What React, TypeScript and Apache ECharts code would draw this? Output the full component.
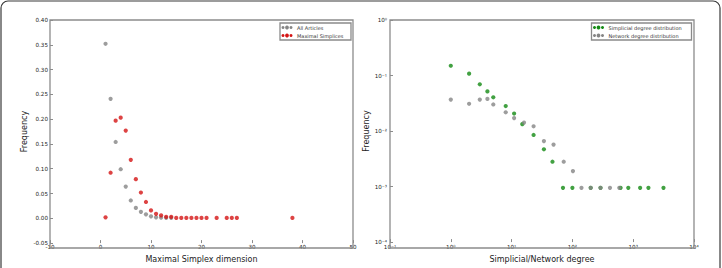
import React, { useEffect, useRef } from "react";
import * as echarts from "echarts";

// Left panel: maximal simplex dimension distribution
const articleDims = [1, 2, 3, 4, 5, 6, 7, 8, 9, 10, 11, 12, 13, 14];
const articleFreq = [0.352, 0.241, 0.154, 0.099, 0.064, 0.036, 0.021, 0.013, 0.008, 0.004, 0.002, 0.0015, 0.001, 0.001];

const simplexDims = [1, 2, 3, 4, 5, 6, 7, 8, 9, 10, 11, 12, 13, 14, 15, 16, 17, 18, 19, 20, 21, 23, 25, 26, 27, 38];
const simplexFreq = [0.002, 0.092, 0.197, 0.203, 0.177, 0.118, 0.079, 0.052, 0.033, 0.016, 0.009, 0.006, 0.003, 0.003,
  0.0008, 0.0008, 0.0008, 0.0008, 0.0008, 0.0008, 0.0008, 0.0008, 0.0008, 0.0008, 0.0008, 0.0008];

// Right panel: degree distributions (log-log)
const simplicialDegree = [1, 2, 3, 4, 5, 8, 11, 15, 23, 34, 47, 70, 100, 200, 290, 620, 830, 1300, 1780, 3150];
const simplicialFreq = [0.15, 0.108, 0.0695, 0.0517, 0.0406, 0.0282, 0.0207, 0.0133, 0.0085, 0.0047, 0.0028,
  0.00095, 0.00095, 0.00095, 0.00095, 0.00095, 0.00095, 0.00095, 0.00095, 0.00095];

const networkDegree = [1, 2, 3, 4, 5, 8, 11, 16, 23, 34, 49, 72, 102, 141, 200, 290, 415, 590];
const networkFreq = [0.0369, 0.031, 0.0369, 0.0379, 0.0301, 0.0218, 0.0171, 0.0142, 0.0122, 0.0066, 0.0057, 0.0028,
  0.0019, 0.00095, 0.00095, 0.00095, 0.00095, 0.00095];

const leftYTicks = ["-0.05", "0.00", "0.05", "0.10", "0.15", "0.20", "0.25", "0.30", "0.35", "0.40"];
const superscripts: Record<string, string> = { "-": "\u207B", "0": "\u2070", "1": "\u00B9", "2": "\u00B2", "3": "\u00B3", "4": "\u2074" };

const GRAY = "#858585";
const RED = "#d41414";
const GREEN = "#138a13";
const FRAME = "#8c8c8c";
const FONT = "DejaVu Sans";

const LEFT_GRID = { left: 50, top: 20, width: 303, height: 228 };
const RIGHT_GRID = { left: 390, top: 20, width: 304, height: 228 };

function logLabel(v: number) {
  const e = Math.round(Math.log10(v)).toString();
  return "10" + e.split("").map((c) => superscripts[c] || c).join("");
}

function frame(g: { left: number; top: number; width: number; height: number }) {
  return {
    type: "rect", z: 20, silent: true,
    shape: { x: g.left, y: g.top, width: g.width, height: g.height },
    style: { fill: "none", stroke: FRAME, lineWidth: 1.3 },
  };
}

function legendGroup(x: number, y: number, w: number, items: { name: string; color: string }[]) {
  const children: any[] = [
    { type: "rect", shape: { x: 0, y: 0, width: w, height: 17 }, style: { fill: "#fff", stroke: "#8a8a8a", lineWidth: 1.3 } },
  ];
  items.forEach((it, i) => {
    const cy = 4.5 + i * 8;
    [3, 7, 11].forEach((cx, k) => {
      children.push({ type: "circle", shape: { cx, cy, r: k === 1 ? 1.9 : 1.5 }, style: { fill: it.color } });
    });
    children.push({
      type: "text", x: 17, y: cy,
      style: { text: it.name, fontSize: 5, fontFamily: FONT, fill: "#333", verticalAlign: "middle", align: "left" },
    });
  });
  return { type: "group", x, y, z: 30, children };
}

export default function App() {
  const ref = useRef<HTMLDivElement>(null);
  useEffect(() => {
    document.body.style.margin = "0";
    const chart = echarts.init(ref.current!, null, { renderer: "svg" });
    const tickLabel = { fontSize: 5.6, fontFamily: FONT, color: "#222" };
    const nameStyle = { fontSize: 8, fontFamily: FONT, color: "#222" };
    const mkTick = () => ({ show: true, inside: true, length: 3, lineStyle: { color: FRAME } });
    const mkLine = () => ({ show: false, onZero: false });
    chart.setOption({
      animation: false,
      backgroundColor: "#fff",
      grid: [LEFT_GRID, RIGHT_GRID],
      xAxis: [
        {
          gridIndex: 0, type: "value", min: -10, max: 50, interval: 10,
          axisLine: mkLine(), splitLine: { show: false }, axisTick: mkTick(),
          axisLabel: { ...tickLabel, margin: 1 },
          name: "Maximal Simplex dimension", nameLocation: "middle", nameGap: 5, nameTextStyle: nameStyle,
        },
        {
          gridIndex: 1, type: "log", logBase: 10, min: 0.1, max: 10000,
          axisLine: mkLine(), splitLine: { show: false }, axisTick: mkTick(),
          axisLabel: { ...tickLabel, margin: 2, formatter: (v: number) => logLabel(v) },
          name: "Simplicial/Network degree", nameLocation: "middle", nameGap: 6, nameTextStyle: nameStyle,
        },
      ],
      yAxis: [
        {
          gridIndex: 0, type: "value", min: -0.05, max: 0.4, interval: 0.05,
          axisLine: mkLine(), splitLine: { show: false }, axisTick: mkTick(),
          axisLabel: {
            ...tickLabel, margin: 2,
            formatter: (v: number) => leftYTicks[Math.round((v + 0.05) / 0.05)] ?? v.toFixed(2),
          },
          name: "Frequency", nameLocation: "middle", nameGap: 22, nameRotate: 90, nameTextStyle: nameStyle,
        },
        {
          gridIndex: 1, type: "log", logBase: 10, min: 0.0001, max: 1,
          axisLine: mkLine(), splitLine: { show: false }, axisTick: mkTick(),
          axisLabel: { ...tickLabel, margin: 3, formatter: (v: number) => logLabel(v) },
          name: "Frequency", nameLocation: "middle", nameGap: 18, nameRotate: 90, nameTextStyle: nameStyle,
        },
      ],
      series: [
        {
          name: "All Articles", type: "scatter", xAxisIndex: 0, yAxisIndex: 0, symbolSize: 4.2,
          itemStyle: { color: GRAY }, data: articleDims.map((d, i) => [d, articleFreq[i]]),
        },
        {
          name: "Maximal Simplices", type: "scatter", xAxisIndex: 0, yAxisIndex: 0, symbolSize: 4.2,
          itemStyle: { color: RED }, data: simplexDims.map((d, i) => [d, simplexFreq[i]]),
        },
        {
          name: "Simplicial degree distribution", type: "scatter", xAxisIndex: 1, yAxisIndex: 1, symbolSize: 4.2,
          itemStyle: { color: GREEN }, data: simplicialDegree.map((d, i) => [d, simplicialFreq[i]]),
        },
        {
          name: "Network degree distribution", type: "scatter", xAxisIndex: 1, yAxisIndex: 1, symbolSize: 4.2,
          itemStyle: { color: GRAY }, data: networkDegree.map((d, i) => [d, networkFreq[i]]),
        },
      ],
      graphic: [
        {
          type: "rect", shape: { x: 1, y: 1, width: 719, height: 300, r: 7 },
          style: { fill: "none", stroke: "#3a3a3a", lineWidth: 1.2 }, silent: true,
        },
        frame(LEFT_GRID),
        frame(RIGHT_GRID),
        legendGroup(280, 23, 71, [
          { name: "All Articles", color: GRAY },
          { name: "Maximal Simplices", color: RED },
        ]),
        legendGroup(591.5, 23, 100, [
          { name: "Simplicial degree distribution", color: GREEN },
          { name: "Network degree distribution", color: GRAY },
        ]),
      ],
    });
    return () => chart.dispose();
  }, []);
  return <div ref={ref} style={{ width: 722, height: 268 }} />;
}
